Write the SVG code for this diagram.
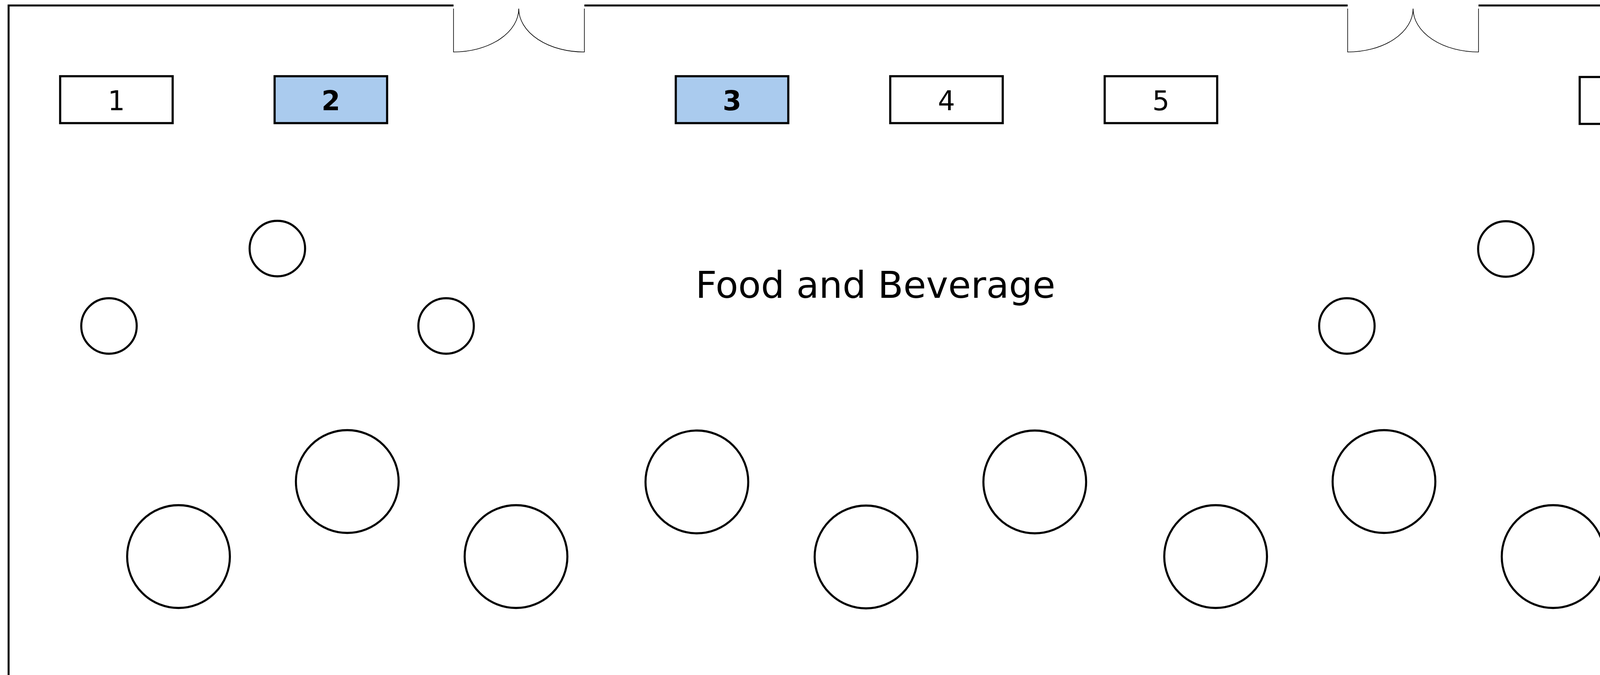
<svg xmlns="http://www.w3.org/2000/svg" width="4510" height="1727" viewBox="0 0 4510 1727">
<style>
.wall{fill:none;stroke:#000;stroke-width:5}
.door{fill:none;stroke:#000;stroke-width:1.6}
.box{fill:#fff;stroke:#000;stroke-width:5.5}
.sel{fill:#aacbee;stroke:#000;stroke-width:5.5}
.tbl{fill:#fff;stroke:#000;stroke-width:5.3}
.lbl{font-family:"DejaVu Sans",Verdana,sans-serif;font-size:69px;fill:#000;text-anchor:middle}
.b{font-weight:bold}
.title{font-family:"DejaVu Sans",Verdana,sans-serif;font-size:95px;fill:#000;text-anchor:middle}
</style>
<rect width="4510" height="1727" fill="#fff"/>
<g id="walls">
<path class="wall" d="M22,1727 V14 H1161 M1496,14 H3450 M3785,14 H4495 V1727"/>
</g>
<g id="door1">
<path class="door" d="M1161,22 V133 A167,111 0 0 0 1328,22 A167,111 0 0 0 1496,133 V22"/>
</g>
<g id="door2">
<path class="door" d="M3450,22 V133 A167,111 0 0 0 3617.5,22 A167,111 0 0 0 3785,133 V22"/>
</g>
<g id="booth1"><rect class="box" x="154" y="195" width="288" height="120"/><text class="lbl" x="298" y="282">1</text></g>
<g id="booth2"><rect class="sel" x="703" y="195" width="288" height="120"/><text class="lbl b" x="847" y="282">2</text></g>
<g id="booth3"><rect class="sel" x="1730" y="195" width="288" height="120"/><text class="lbl b" x="1874" y="282">3</text></g>
<g id="booth4"><rect class="box" x="2279" y="195" width="288" height="120"/><text class="lbl" x="2423" y="282">4</text></g>
<g id="booth5"><rect class="box" x="2828" y="195" width="288" height="120"/><text class="lbl" x="2972" y="282">5</text></g>
<g id="booth6"><rect class="box" x="4044" y="197" width="288" height="120"/><text class="lbl" x="4188" y="284">6</text></g>
<g id="label"><text class="title" x="2241" y="762">Food and Beverage</text></g>
<g id="small-tables">
<circle class="tbl" cx="279" cy="834" r="71"/>
<circle class="tbl" cx="710" cy="636" r="71"/>
<circle class="tbl" cx="1142" cy="834" r="71"/>
<circle class="tbl" cx="3448" cy="834" r="71"/>
<circle class="tbl" cx="3855" cy="637" r="71"/>
<circle class="tbl" cx="4264" cy="834" r="71"/>
</g>
<g id="large-tables">
<circle class="tbl" cx="457" cy="1424" r="131.5"/>
<circle class="tbl" cx="889" cy="1232" r="131.5"/>
<circle class="tbl" cx="1321" cy="1424" r="131.5"/>
<circle class="tbl" cx="1784" cy="1233" r="131.5"/>
<circle class="tbl" cx="2217" cy="1425" r="131.5"/>
<circle class="tbl" cx="2649" cy="1233" r="131.5"/>
<circle class="tbl" cx="3112" cy="1424" r="131.5"/>
<circle class="tbl" cx="3543" cy="1232" r="131.5"/>
<circle class="tbl" cx="3976" cy="1424" r="131.5"/>
</g>
<g id="connectors"/>
</svg>
